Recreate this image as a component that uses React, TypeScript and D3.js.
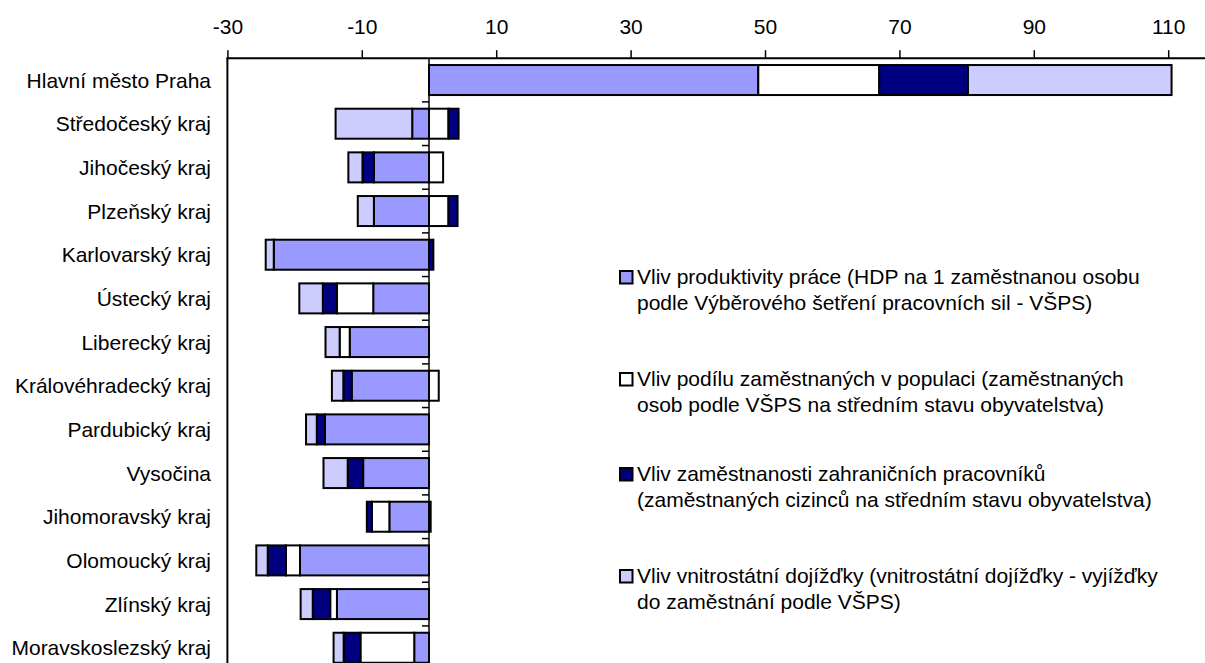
import React, { useEffect, useRef } from "react";
import * as d3 from "d3";

const regions = [
  "Hlavní město Praha",
  "Středočeský kraj",
  "Jihočeský kraj",
  "Plzeňský kraj",
  "Karlovarský kraj",
  "Ústecký kraj",
  "Liberecký kraj",
  "Královéhradecký kraj",
  "Pardubický kraj",
  "Vysočina",
  "Jihomoravský kraj",
  "Olomoucký kraj",
  "Zlínský kraj",
  "Moravskoslezský kraj",
];

// series values, same order as regions
const productivity = [49.0, -2.5, -8.2, -8.2, -23.1, -8.3, -11.8, -11.5, -15.5, -9.8, -5.9, -19.2, -13.7, -2.2];
const employmentShare = [18.0, 2.9, 2.1, 2.9, 0, -5.4, -1.5, 1.45, 0, 0, -2.6, -2.1, -1.0, -8.0];
const foreignWorkers = [13.2, 1.5, -1.7, 1.35, 0.65, -2.1, 0, -1.25, -1.2, -2.3, -0.75, -2.7, -2.6, -2.5];
const commuting = [30.3, -11.4, -2.1, -2.4, -1.2, -3.5, -2.1, -1.7, -1.6, -3.6, 0.25, -1.7, -1.8, -1.5];

const seriesKeys = ["prod", "share", "foreign", "commute"];
const seriesColors = ["#9999FF", "#FFFFFF", "#000080", "#CCCCFF"];
const legendLabels = [
  ["Vliv produktivity práce (HDP na 1 zaměstnanou osobu", "podle Výběrového šetření pracovních sil - VŠPS)"],
  ["Vliv podílu zaměstnaných v populaci (zaměstnaných", "osob podle VŠPS na středním stavu obyvatelstva)"],
  ["Vliv zaměstnanosti zahraničních pracovníků", "(zaměstnaných cizinců na středním stavu obyvatelstva)"],
  ["Vliv vnitrostátní dojížďky (vnitrostátní dojížďky - vyjížďky", "do zaměstnání podle VŠPS)"],
];
const tickValues = [-30, -10, 10, 30, 50, 70, 90, 110];

const W = 1205;
const H = 663;
const FONT = "'Liberation Sans', Arial, sans-serif";
const FS = 21;

const App: React.FC = () => {
  const svgRef = useRef<SVGSVGElement | null>(null);

  useEffect(() => {
    const svg = d3.select(svgRef.current);
    svg.selectAll("*").remove();

    const plotLeft = 227.4;
    const plotTop = 58.2;
    const step = 43.67;

    const x = d3.scaleLinear().domain([-30, 110]).range([plotLeft, 1168.2]);
    const y = d3
      .scaleBand()
      .domain(regions)
      .range([plotTop, plotTop + step * regions.length])
      .paddingInner(0.313)
      .paddingOuter(0.1565);

    const rows = regions.map((r, i) => ({
      region: r,
      prod: productivity[i],
      share: employmentShare[i],
      foreign: foreignWorkers[i],
      commute: commuting[i],
    }));

    const stacked = d3
      .stack<any>()
      .keys(seriesKeys)
      .offset(d3.stackOffsetDiverging)(rows);

    // plot area left border
    svg
      .append("line")
      .attr("x1", plotLeft)
      .attr("x2", plotLeft)
      .attr("y1", plotTop)
      .attr("y2", H + 20)
      .attr("stroke", "#000")
      .attr("stroke-width", 2);

    // bars
    svg
      .append("g")
      .selectAll("g")
      .data(stacked)
      .join("g")
      .attr("fill", (_, i) => seriesColors[i])
      .selectAll("rect")
      .data((s) => s.filter((d) => d[1] - d[0] !== 0))
      .join("rect")
      .attr("x", (d) => x(Math.min(d[0], d[1])))
      .attr("width", (d) => Math.abs(x(d[1]) - x(d[0])))
      .attr("y", (d) => y(d.data.region) || 0)
      .attr("height", y.bandwidth())
      .attr("stroke", "#000")
      .attr("stroke-width", 2);

    // zero axis with ticks between categories
    svg
      .append("line")
      .attr("x1", x(0))
      .attr("x2", x(0))
      .attr("y1", plotTop)
      .attr("y2", H + 20)
      .attr("stroke", "#000")
      .attr("stroke-width", 1.5);
    svg
      .append("g")
      .selectAll("line")
      .data(d3.range(1, regions.length))
      .join("line")
      .attr("x1", x(0) - 7)
      .attr("x2", x(0))
      .attr("y1", (k) => plotTop + k * y.step())
      .attr("y2", (k) => plotTop + k * y.step())
      .attr("stroke", "#000")
      .attr("stroke-width", 1.5);

    // top value axis
    const axis = svg
      .append("g")
      .attr("transform", `translate(0,${plotTop})`)
      .call(
        d3
          .axisTop(x)
          .tickValues(tickValues)
          .tickFormat((d) => String(d))
          .tickSize(8)
          .tickSizeOuter(0)
          .tickPadding(16)
      );
    axis.select(".domain").remove();
    axis.selectAll(".tick line").attr("stroke", "#000").attr("stroke-width", 1.5);
    axis
      .selectAll(".tick text")
      .attr("font-family", FONT)
      .attr("font-size", FS)
      .attr("fill", "#000");
    svg
      .append("line")
      .attr("x1", plotLeft - 1)
      .attr("x2", W)
      .attr("y1", plotTop)
      .attr("y2", plotTop)
      .attr("stroke", "#000")
      .attr("stroke-width", 2);

    // category labels
    svg
      .append("g")
      .selectAll("text")
      .data(regions)
      .join("text")
      .attr("x", 211)
      .attr("y", (d) => (y(d) || 0) + y.bandwidth() / 2 + 7.5)
      .attr("text-anchor", "end")
      .attr("font-family", FONT)
      .attr("font-size", FS)
      .attr("fill", "#000")
      .text((d) => d);

    // legend
    const legendTops = [271, 373, 468, 570];
    const lg = svg
      .append("g")
      .selectAll("g")
      .data(legendLabels)
      .join("g")
      .attr("transform", (_, i) => `translate(620,${legendTops[i]})`);
    lg.append("rect")
      .attr("width", 12.5)
      .attr("height", 12.5)
      .attr("fill", (_, i) => seriesColors[i])
      .attr("stroke", "#000")
      .attr("stroke-width", 2);
    lg.each(function (lines) {
      const g = d3.select(this);
      lines.forEach((t, j) => {
        g.append("text")
          .attr("x", 17)
          .attr("y", 13 + j * 25.5)
          .attr("font-family", FONT)
          .attr("font-size", FS)
          .attr("fill", "#000")
          .text(t);
      });
    });
  }, []);

  return (
    <svg
      ref={svgRef}
      width={W}
      height={H}
      style={{ position: "absolute", left: 0, top: 0, background: "#fff", overflow: "hidden" }}
    />
  );
};

export default App;
